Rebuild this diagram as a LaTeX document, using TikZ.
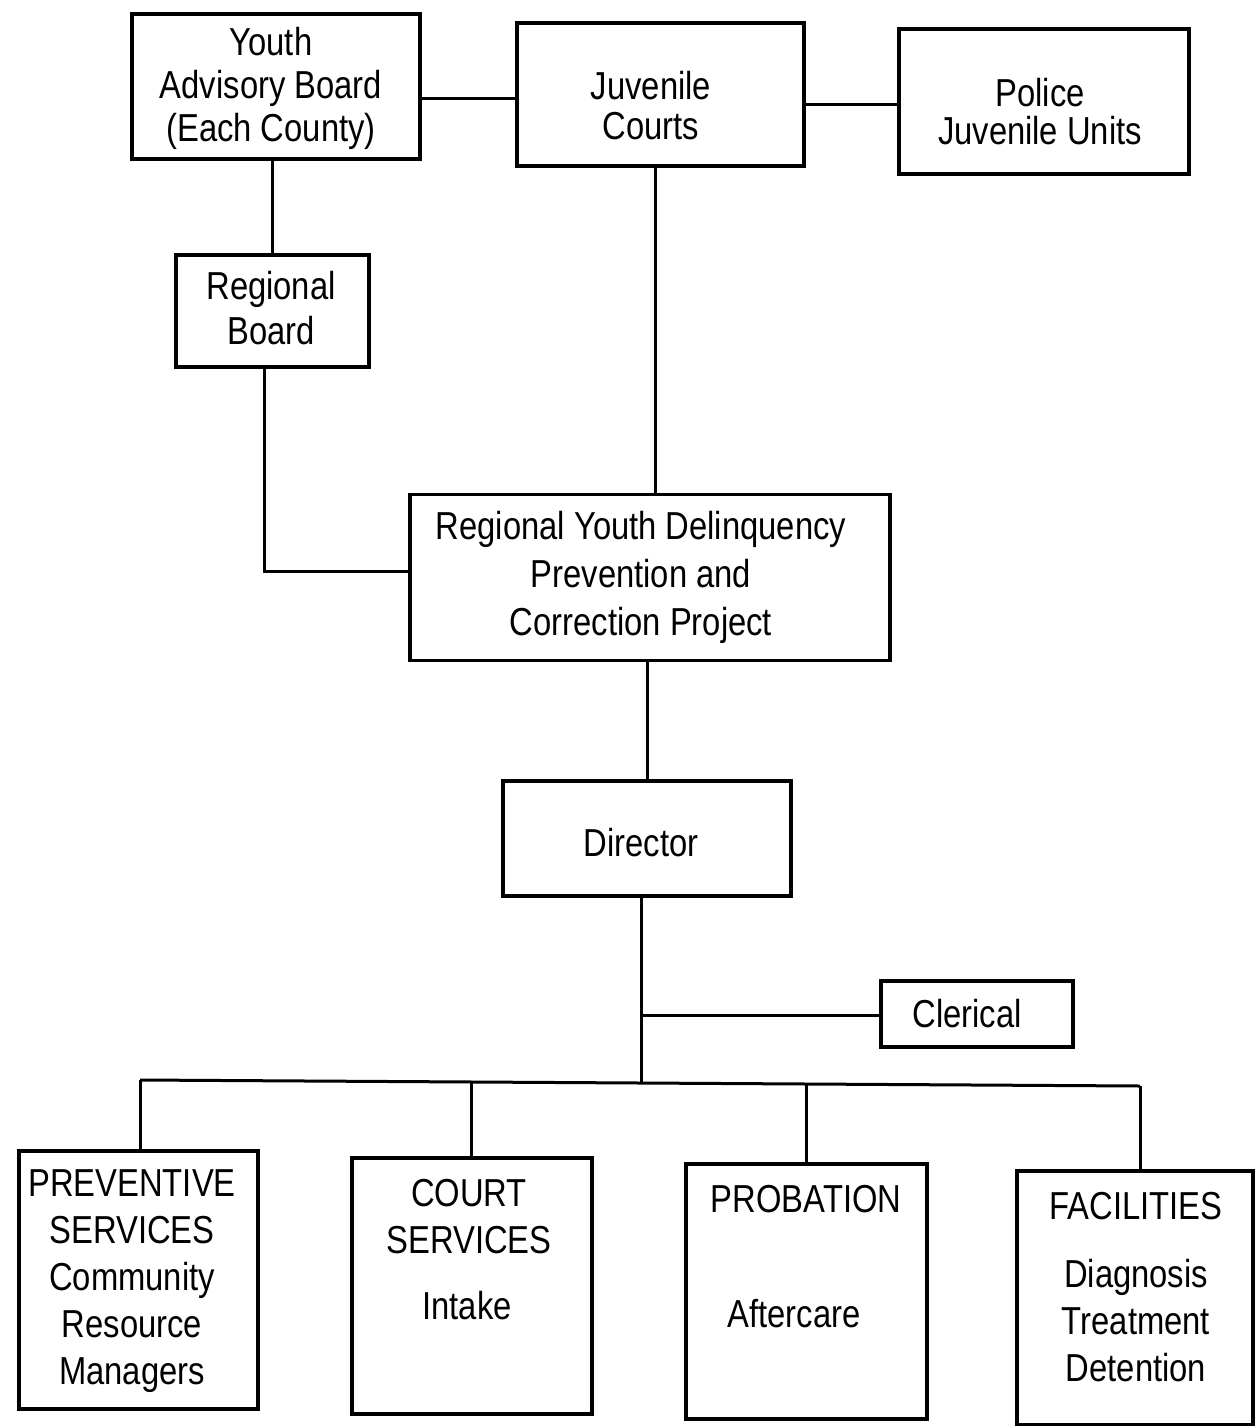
\documentclass[tikz,border=0pt]{standalone}
\usepackage{fontspec}
\setmainfont[FakeStretch=0.84]{Liberation Sans}
\usepackage{tikz}

\begin{document}
\begin{tikzpicture}[x=1pt, y=-1pt,
    every node/.style={rectangle, inner sep=0pt},
    box/.style={draw, line width=3.4pt, minimum width=#1},
    txt/.style={font=\fontsize{39}{#1}\selectfont, align=center},
    txt/.default=47,
    link/.style={line width=3pt}]

    \useasboundingbox (0,0) rectangle (1255,1426);

    % top row
    \node[box=288pt, minimum height=145pt] (yab) at (276,86.5) {};
    \node[box=287pt, minimum height=143pt] (jc) at (660.5,94.5) {};
    \node[box=290pt, minimum height=145pt] (pju) at (1044,101.5) {};
    \node[txt=43] (yabt) at (271,88) {Youth\\Advisory Board\\(Each County)};
    \node[txt=40] (jct) at (651,106) {Juvenile\\Courts};
    \node[txt=38] (pjut) at (1040,112) {Police\\Juvenile Units};

    % middle
    \node[box=193pt, minimum height=112pt] (rb) at (272.5,311) {};
    \node[txt=45] (rbt) at (271,308) {Regional\\Board};
    \node[box=480pt, minimum height=166pt] (rydp) at (650,577.5) {};
    \node[txt=48] (rydpt) at (641,577) {Regional Youth Delinquency\\Prevention and\\Correction Project};
    \node[box=288pt, minimum height=115pt] (dir) at (647,838.5) {};
    \node[txt] (dirt) at (641,843) {Director};
    \node[box=192pt, minimum height=66pt] (cler) at (977,1014) {};
    \node[txt] (clert) at (967,1014) {Clerical};

    % bottom row
    \node[box=239pt, minimum height=258pt] (prev) at (138.5,1280) {};
    \node[box=240pt, minimum height=256pt] (court) at (472,1286) {};
    \node[box=241pt, minimum height=255pt] (prob) at (806.5,1291.5) {};
    \node[box=236pt, minimum height=254pt] (fac) at (1135,1298) {};
    \node[txt] (prevt) at (132,1281) {PREVENTIVE\\SERVICES\\Community\\Resource\\Managers};
    \node[txt] (courtt) at (469,1217) {COURT\\SERVICES};
    \node[txt] (intake) at (467,1306) {Intake};
    \node[txt] (probt) at (806,1199) {PROBATION};
    \node[txt] (after) at (794,1314) {Aftercare};
    \node[txt] (fact) at (1136,1206) {FACILITIES};
    \node[txt] (diag) at (1136,1321) {Diagnosis\\Treatment\\Detention};

    % junction points
    \coordinate (bend) at (264,571);
    \coordinate (clj) at (642,1015);
    \coordinate (busc) at (641,1082);
    \coordinate (bus1) at (140,1080);
    \coordinate (bus2) at (471,1082);
    \coordinate (bus3) at (806,1084);
    \coordinate (bus4) at (1140,1086);

    \draw[link] (yab.east |- 0,99) -- (jc.west |- 0,99);
    \draw[link] (jc.east |- 0,105) -- (pju.west |- 0,105);
    \draw[link] (yab.south -| 272,0) -- (rb.north -| 272,0);
    \draw[link] (rb.south -| bend) -- (bend) -- (rydp.west |- bend);
    \draw[link] (jc.south -| 655,0) -- (rydp.north -| 655,0);
    \draw[link] (rydp.south -| 647,0) -- (dir.north -| 647,0);
    \draw[link] (dir.south -| busc) -- (busc);
    \draw[link] (clj) -- (cler.west |- clj);
    \draw[link] (bus1) -- (bus4);
    \draw[link] (bus1) -- (prev.north -| bus1);
    \draw[link] (bus2) -- (court.north -| bus2);
    \draw[link] (bus3) -- (prob.north -| bus3);
    \draw[link] (bus4) -- (fac.north -| bus4);
\end{tikzpicture}
\end{document}
